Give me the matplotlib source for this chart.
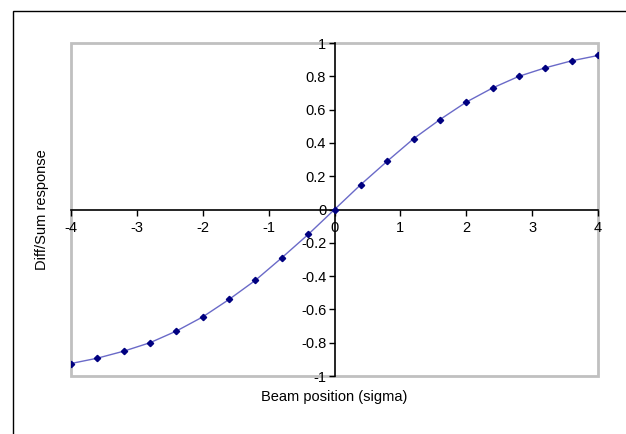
'''
Diff/Sum response against beam position
'''
import matplotlib
matplotlib.use('Agg')
import matplotlib.pyplot as plt
from matplotlib.patches import Rectangle
from matplotlib.ticker import FormatStrFormatter

# beam position in units of sigma
positions = [-4.0, -3.6, -3.2, -2.8, -2.4, -2.0, -1.6, -1.2, -0.8, -0.4, 0.0,
             0.4, 0.8, 1.2, 1.6, 2.0, 2.4, 2.8, 3.2, 3.6, 4.0]
# diff/sum response
response = [-0.925, -0.893, -0.851, -0.800, -0.730, -0.645, -0.540, -0.425, -0.290, -0.150, 0.0,
            0.150, 0.290, 0.425, 0.540, 0.645, 0.730, 0.800, 0.851, 0.893, 0.925]
x_ticks = [-4, -3, -2, -1, 0, 1, 2, 3, 4]
y_ticks = [-1, -0.8, -0.6, -0.4, -0.2, 0, 0.2, 0.4, 0.6, 0.8, 1]

plt.rcParams['font.family'] = ['Liberation Sans', 'DejaVu Sans']
plt.rcParams['axes.unicode_minus'] = False

fig = plt.figure(figsize=(6.26, 4.34), dpi=100)
ax = fig.add_axes([71 / 626, 58 / 434, 527 / 626, 333 / 434])

# outer chart frame (runs off the right and bottom edges)
fig.patches.append(Rectangle((13 / 626, -0.05), 1.2, (434 - 11) / 434 + 0.05,
                             transform=fig.transFigure, fill=False,
                             edgecolor='black', linewidth=1.0))

ax.plot(positions, response, color='#6a6ac8', linewidth=1.0, zorder=3)
ax.plot(positions, response, linestyle='none', marker='D', markersize=3.2,
        color='#000080', zorder=4)

ax.set_xlim(-4, 4)
ax.set_ylim(-1, 1)

# gray plot-area border
ax.add_patch(Rectangle((0, 0), 1, 1, transform=ax.transAxes, fill=False,
                       edgecolor='#c0c0c0', linewidth=2.0, clip_on=False, zorder=1))

for side in ['top', 'right']:
    ax.spines[side].set_visible(False)
for side in ['left', 'bottom']:
    ax.spines[side].set_position(('data', 0))
    ax.spines[side].set_color('black')
    ax.spines[side].set_linewidth(1.2)
    ax.spines[side].set_zorder(2)

ax.set_xticks(x_ticks)
ax.set_yticks(y_ticks)
ax.xaxis.set_major_formatter(FormatStrFormatter('%g'))
ax.yaxis.set_major_formatter(FormatStrFormatter('%g'))
ax.tick_params(axis='both', direction='out', length=4, width=1, labelsize=10.5,
               colors='black')
ax.tick_params(axis='x', pad=4)
ax.tick_params(axis='y', pad=2)

ax.text(0.5, -0.063, 'Beam position (sigma)', transform=ax.transAxes,
        ha='center', va='center', fontsize=10.5)
ax.text(-0.055, 0.5, 'Diff/Sum response', transform=ax.transAxes,
        ha='center', va='center', rotation=90, fontsize=10.5)

fig.savefig('out.png', dpi=100)
